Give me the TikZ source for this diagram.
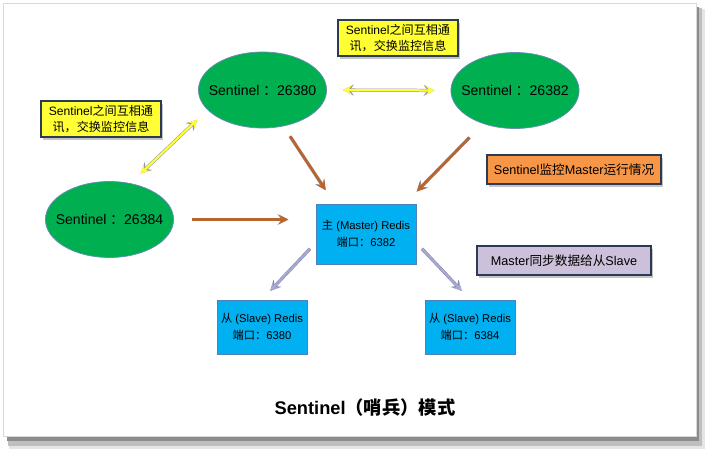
\documentclass[tikz,border=0pt]{standalone}
\usepackage{fontspec}
\setmainfont{Liberation Sans}
\newfontfamily\cjk{Noto Sans CJK SC}
\usepackage{xcolor}
\usepackage{tikz}
\usetikzlibrary{shapes.geometric, arrows, shadows}
\definecolor{sentgreen}{HTML}{00B050}
\definecolor{sentline}{HTML}{6A8BB8}
\definecolor{redisblue}{HTML}{00B0F0}
\definecolor{redisline}{HTML}{4F81BD}
\definecolor{noteyellow}{HTML}{FFFF33}
\definecolor{noteorange}{HTML}{F79646}
\definecolor{notepurple}{HTML}{CCC0DA}
\definecolor{noteline}{HTML}{2B3A55}
\definecolor{talkline}{HTML}{8C93A6}
\definecolor{watchbrown}{HTML}{B8652F}
\definecolor{watchline}{HTML}{9A8A88}
\definecolor{syncpurple}{HTML}{A8A8D2}
\definecolor{syncline}{HTML}{7A7FA8}
\tikzstyle{sentinel} = [ellipse, draw=sentline, line width=0.5pt, fill=sentgreen, minimum width=3.2cm, minimum height=1.9cm, inner xsep=-6pt, inner ysep=0pt, font=\fontsize{10}{12}\selectfont]
\tikzstyle{redis} = [rectangle, draw=redisline, line width=0.6pt, fill=redisblue, align=center, inner sep=0pt, font=\fontsize{8}{12}\selectfont]
\tikzstyle{note} = [rectangle, draw=noteline, line width=0.8pt, align=center, inner sep=0pt, drop shadow={shadow xshift=1.5pt, shadow yshift=-2pt, opacity=0.45}]
\tikzstyle{talk} = [<->, >=stealth, line width=1.6pt, draw=noteyellow, preaction={draw=talkline, line width=2.3pt}]
\tikzstyle{watch} = [->, >=stealth, line width=1.8pt, draw=watchbrown, preaction={draw=watchline, line width=2.3pt}]
\tikzstyle{sync} = [->, >=stealth, line width=1.6pt, draw=syncpurple, preaction={draw=syncline, line width=2.2pt}]

\begin{document}
\begin{tikzpicture}[x=0.025cm, y=-0.025cm]
\useasboundingbox (0,0) rectangle (713,454);
\fill [black!10] (9,9) rectangle (705,449);
\fill [black!25] (8,8) rectangle (702,446);
\fill [black!45] (7,7) rectangle (699,441);
\filldraw [fill=white, draw=black!15] (3,3) rectangle (696,436);

\node (e26380) at (262.5,90) [sentinel] {Sentinel\hspace{2.5pt}{\cjk ：}26380};
\node (e26382) at (515,90.5) [sentinel] {Sentinel\hspace{2.5pt}{\cjk ：}26382};
\node (e26384) at (109.5,219.5) [sentinel] {Sentinel\hspace{2.5pt}{\cjk ：}26384};

\node (master) at (366,234) [redis, minimum width=2.5cm, minimum height=1.5cm] {{\cjk 主} (Master) Redis\\{\cjk 端口：}6382};
\node (slave6380) at (262,327) [redis, minimum width=2.25cm, minimum height=1.35cm] {{\cjk 从} (Slave) Redis\\{\cjk 端口：}6380};
\node (slave6384) at (470,327) [redis, minimum width=2.25cm, minimum height=1.35cm] {{\cjk 从} (Slave) Redis\\{\cjk 端口：}6384};

\node (talktop) at (398,38) [note, fill=noteyellow, minimum width=3cm, minimum height=0.9cm, font=\fontsize{8.6}{11.5}\selectfont] {Sentinel{\cjk 之间互相通}\\{\cjk 讯，交换监控信息}};
\node (talkleft) at (101,119) [note, fill=noteyellow, minimum width=3cm, minimum height=0.9cm, font=\fontsize{8.6}{11.5}\selectfont] {Sentinel{\cjk 之间互相通}\\{\cjk 讯，交换监控信息}};
\node (watchnote) at (574,169.5) [note, fill=noteorange, minimum width=4.35cm, minimum height=0.725cm, font=\fontsize{9}{11}\selectfont] {Sentinel{\cjk 监控}Master{\cjk 运行情况}};
\node (syncnote) at (564,260.5) [note, fill=notepurple, minimum width=4.35cm, minimum height=0.725cm, font=\fontsize{9}{11}\selectfont] {Master{\cjk 同步数据给从}Slave};

\draw [talk, shorten <=0.4cm, shorten >=0.4cm] (e26380.east) -- (e26382.west);
\draw [talk, shorten <=0.35cm, shorten >=0.35cm] (e26380.200) -- (e26384.60);

\draw [watch, shorten <=0.3cm, shorten >=0.4cm] (e26380.300) -- (master.136);
\draw [watch, shorten <=0.48cm, shorten >=0.42cm] (e26382.226) -- (master.38);
\draw [watch, shorten <=0.45cm, shorten >=0.68cm] (e26384.east) -- (e26384.east -| master.west);

\draw [sync, shorten <=0.2cm, shorten >=0.3cm] (master.190) -- (slave6380.north);
\draw [sync, shorten <=0.2cm, shorten >=0.3cm] (master.-10) -- (slave6384.north);

\node (title) at (365,408) [font=\fontsize{13}{15}\selectfont\bfseries] {Sentinel{\cjk （哨兵）模式}};
\end{tikzpicture}
\end{document}
